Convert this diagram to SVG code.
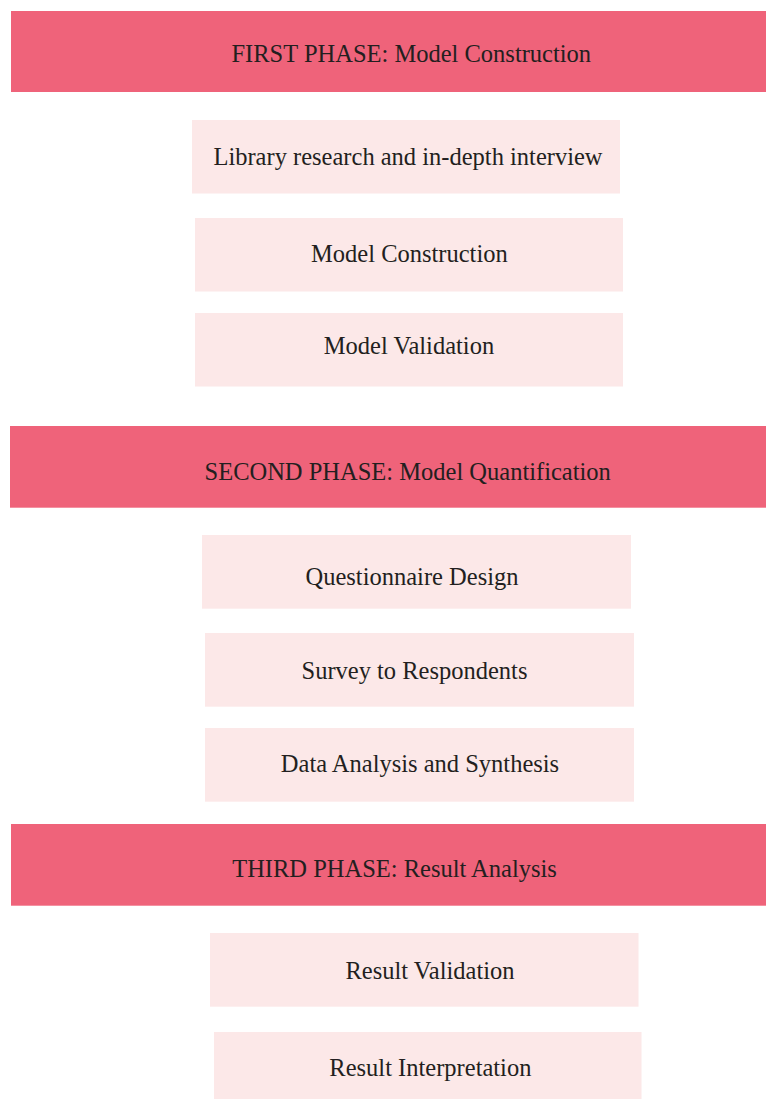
<svg xmlns="http://www.w3.org/2000/svg" width="766" height="1099" viewBox="0 0 766 1099">
  <style>
    .phase { fill: #EF637A; }
    .step { fill: #FCE8E8; }
    .lbl { font-family: "Liberation Serif", "Times New Roman", serif; font-size: 24.5px; fill: #231F20; text-anchor: middle; }
  </style>
  <rect x="0" y="0" width="766" height="1099" fill="#FFFFFF"/>
  <g id="phase1">
    <rect class="phase" x="11" y="11" width="755" height="81"/>
    <text class="lbl" x="411.3" y="61.5">FIRST PHASE: Model Construction</text>
  </g>
  <g id="library-research">
    <rect class="step" x="192" y="120" width="428" height="73.5"/>
    <text class="lbl" x="408" y="165">Library research and in-depth interview</text>
  </g>
  <g id="model-construction">
    <rect class="step" x="195" y="218" width="428" height="73.5"/>
    <text class="lbl" x="409.4" y="261.7">Model Construction</text>
  </g>
  <g id="model-validation">
    <rect class="step" x="195" y="313" width="428" height="73.5"/>
    <text class="lbl" x="409" y="354.3">Model Validation</text>
  </g>
  <g id="phase2">
    <rect class="phase" x="10" y="426" width="756" height="81.7"/>
    <text class="lbl" x="407.7" y="480">SECOND PHASE: Model Quantification</text>
  </g>
  <g id="questionnaire-design">
    <rect class="step" x="202" y="535" width="429" height="73.7"/>
    <text class="lbl" x="412" y="585">Questionnaire Design</text>
  </g>
  <g id="survey">
    <rect class="step" x="205" y="633" width="429" height="73.7"/>
    <text class="lbl" x="414.5" y="679">Survey to Respondents</text>
  </g>
  <g id="data-analysis">
    <rect class="step" x="205" y="728" width="429" height="73.7"/>
    <text class="lbl" x="420" y="772">Data Analysis and Synthesis</text>
  </g>
  <g id="phase3">
    <rect class="phase" x="11" y="824" width="755" height="81.7"/>
    <text class="lbl" x="394.5" y="876.7">THIRD PHASE: Result Analysis</text>
  </g>
  <g id="result-validation">
    <rect class="step" x="210" y="933" width="428.5" height="73.7"/>
    <text class="lbl" x="430" y="979.3">Result Validation</text>
  </g>
  <g id="result-interpretation">
    <rect class="step" x="214" y="1032" width="427.5" height="67"/>
    <text class="lbl" x="430.4" y="1075.7">Result Interpretation</text>
  </g>
  <g id="connectors"/>
</svg>
